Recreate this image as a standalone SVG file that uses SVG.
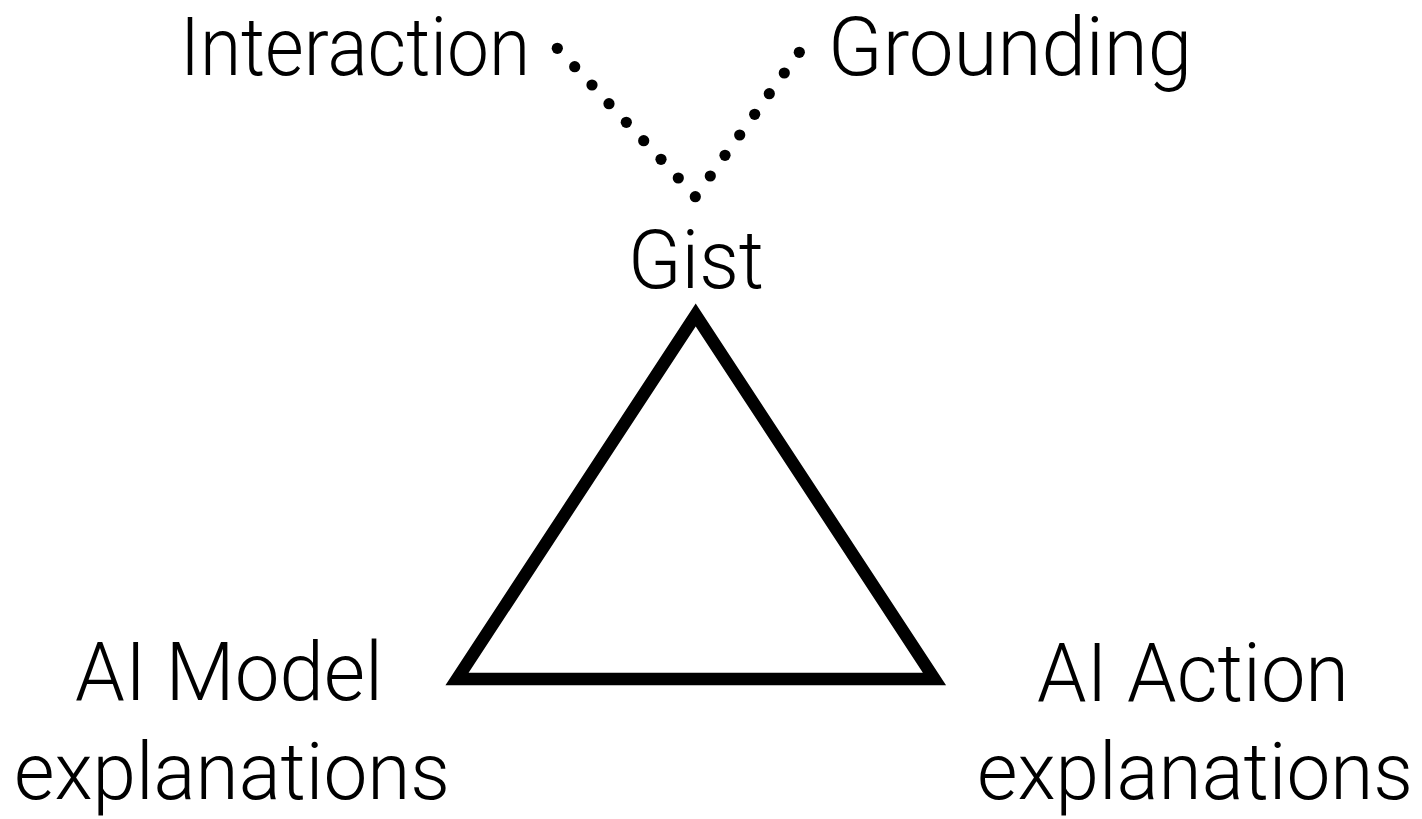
<svg xmlns="http://www.w3.org/2000/svg" width="1422" height="819" viewBox="0 0 1422 819">
<style>
.lbl{font-family:Roboto,"Liberation Sans",sans-serif;font-weight:300;font-size:82px;fill:#000}
.exp{font-size:79px}
.dot{fill:#000}
</style>
<rect width="1422" height="819" fill="#fff"/>
<g id="connectors">
<g id="dots-interaction">
<circle class="dot" cx="557.3" cy="48.3" r="5.6"/>
<circle class="dot" cx="574.7" cy="66.7" r="5.6"/>
<circle class="dot" cx="592" cy="85" r="5.6"/>
<circle class="dot" cx="609" cy="103.7" r="5.6"/>
<circle class="dot" cx="626.3" cy="122.3" r="5.6"/>
<circle class="dot" cx="643.7" cy="140.7" r="5.6"/>
<circle class="dot" cx="661" cy="159.3" r="5.6"/>
<circle class="dot" cx="678.3" cy="178" r="5.6"/>
<circle class="dot" cx="695.3" cy="196.7" r="5.6"/>
</g>
<g id="dots-grounding">
<circle class="dot" cx="710.3" cy="176" r="5.6"/>
<circle class="dot" cx="725" cy="155.3" r="5.6"/>
<circle class="dot" cx="739.7" cy="135" r="5.6"/>
<circle class="dot" cx="754.7" cy="114.3" r="5.6"/>
<circle class="dot" cx="769.3" cy="93.7" r="5.6"/>
<circle class="dot" cx="784.3" cy="73" r="5.6"/>
<circle class="dot" cx="799.3" cy="52.3" r="5.6"/>
</g>
</g>
<g id="triangle">
<polygon points="695.7,315 457,679 934.5,679" fill="none" stroke="#000" stroke-width="12.5" stroke-linejoin="miter" stroke-miterlimit="10"/>
</g>
<g id="interaction"><text class="lbl" x="180" y="75" textLength="350" lengthAdjust="spacingAndGlyphs">Interaction</text></g>
<g id="grounding"><text class="lbl" x="828" y="75" textLength="364" lengthAdjust="spacingAndGlyphs">Grounding</text></g>
<g id="gist"><text class="lbl" x="628" y="288" textLength="136" lengthAdjust="spacingAndGlyphs">Gist</text></g>
<g id="ai-model">
<text class="lbl" x="75" y="700" textLength="308" lengthAdjust="spacingAndGlyphs">AI Model</text>
<text class="lbl exp" x="14" y="799" textLength="436" lengthAdjust="spacingAndGlyphs">explanations</text>
</g>
<g id="ai-action">
<text class="lbl" x="1037" y="701" textLength="312" lengthAdjust="spacingAndGlyphs">AI Action</text>
<text class="lbl exp" x="977" y="799" textLength="436" lengthAdjust="spacingAndGlyphs">explanations</text>
</g>
</svg>
